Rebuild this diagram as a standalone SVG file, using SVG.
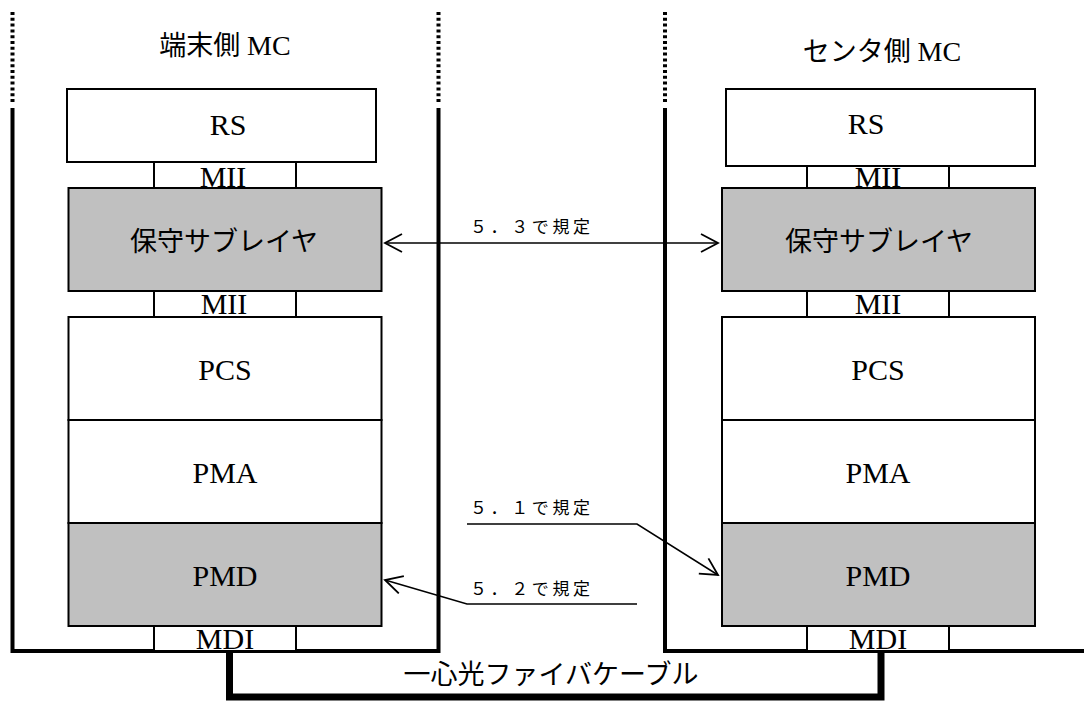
<svg xmlns="http://www.w3.org/2000/svg" width="1084" height="701" viewBox="0 0 1084 701">
<style>
.frame{fill:none;stroke:#000;stroke-width:4}
.dot{fill:none;stroke:#000;stroke-width:4;stroke-dasharray:3 2.8}
.cable{fill:none;stroke:#000;stroke-width:7}
.box{fill:#fff;stroke:#000;stroke-width:2}
.gbox{fill:#c0c0c0;stroke:#000;stroke-width:2}
.t{font-family:"Liberation Serif","Noto Sans CJK JP",serif;font-size:30px;fill:#000;text-anchor:middle}
.j{font-family:"Liberation Serif","Noto Sans CJK JP",serif;font-size:27px;fill:#000;text-anchor:middle}
.l{font-family:"Liberation Serif","Noto Sans CJK JP",serif;font-size:17px;fill:#000}
.ln{fill:none;stroke:#000;stroke-width:1.5}
</style>
<defs>
<marker id="ah" viewBox="0 0 20 20" refX="18" refY="10" markerWidth="20" markerHeight="20" markerUnits="userSpaceOnUse" orient="auto-start-reverse">
<path d="M1,1 L18,10 L1,19" fill="none" stroke="#000" stroke-width="1.8"/>
</marker>
</defs>

<g id="frames">
<line class="dot" x1="12.5" y1="12" x2="12.5" y2="104"/>
<line class="dot" x1="438.5" y1="12" x2="438.5" y2="104"/>
<line class="dot" x1="665" y1="12" x2="665" y2="104"/>
<path class="frame" d="M12.5,108 V651 H438.5 V108"/>
<path class="frame" d="M665,108 V651 H1084"/>
</g>

<g id="cable">
<path class="cable" d="M229.5,651 V697 H881 V651"/>
<text class="j" x="551" y="684" font-size="28">一心光ファイバケーブル</text>
</g>

<g id="title-left"><text class="j" x="225" y="55" font-size="26">端末側 <tspan font-size="28">MC</tspan></text></g>
<g id="title-right"><text class="j" x="882" y="61" font-size="26">センタ側 <tspan font-size="28">MC</tspan></text></g>

<g id="left-rs"><rect class="box" x="67" y="89" width="309" height="73"/><text class="t" x="228" y="135">RS</text></g>
<g id="left-mii1"><rect class="box" x="154" y="162" width="142" height="26"/><text class="t" x="223" y="187">MII</text></g>
<g id="left-maint"><rect class="gbox" x="68.5" y="188" width="313" height="103"/><text class="j" x="224" y="251">保守サブレイヤ</text></g>
<g id="left-mii2"><rect class="box" x="154" y="291" width="142" height="26"/><text class="t" x="224" y="314">MII</text></g>
<g id="left-pcs"><rect class="box" x="68.5" y="317" width="313" height="103"/><text class="t" x="225" y="380">PCS</text></g>
<g id="left-pma"><rect class="box" x="68.5" y="420" width="313" height="103"/><text class="t" x="225" y="483">PMA</text></g>
<g id="left-pmd"><rect class="gbox" x="68.5" y="523" width="313" height="103"/><text class="t" x="225" y="586">PMD</text></g>
<g id="left-mdi"><rect class="box" x="154" y="626" width="142" height="25"/><text class="t" x="225" y="649">MDI</text></g>

<g id="right-rs"><rect class="box" x="726" y="89" width="309" height="77"/><text class="t" x="866" y="134">RS</text></g>
<g id="right-mii1"><rect class="box" x="807" y="166" width="142" height="22"/><text class="t" x="878" y="187">MII</text></g>
<g id="right-maint"><rect class="gbox" x="722" y="188" width="313" height="103"/><text class="j" x="879" y="251">保守サブレイヤ</text></g>
<g id="right-mii2"><rect class="box" x="807" y="291" width="142" height="26"/><text class="t" x="878" y="314">MII</text></g>
<g id="right-pcs"><rect class="box" x="722" y="317" width="313" height="103"/><text class="t" x="878" y="380">PCS</text></g>
<g id="right-pma"><rect class="box" x="722" y="420" width="313" height="103"/><text class="t" x="878" y="483">PMA</text></g>
<g id="right-pmd"><rect class="gbox" x="722" y="523" width="313" height="103"/><text class="t" x="878" y="586">PMD</text></g>
<g id="right-mdi"><rect class="box" x="807" y="626" width="142" height="25"/><text class="t" x="878" y="649">MDI</text></g>

<g id="connectors">
<line class="ln" x1="385" y1="243" x2="718" y2="243" marker-start="url(#ah)" marker-end="url(#ah)"/>
<text class="l" x="470" y="233" textLength="120">５．３で規定</text>
<polyline class="ln" points="467,524 637,524 718,575" marker-end="url(#ah)"/>
<text class="l" x="470" y="514" textLength="120">５．１で規定</text>
<polyline class="ln" points="637,604 467,604 385,580" marker-end="url(#ah)"/>
<text class="l" x="470" y="595" textLength="120">５．２で規定</text>
</g>
</svg>
